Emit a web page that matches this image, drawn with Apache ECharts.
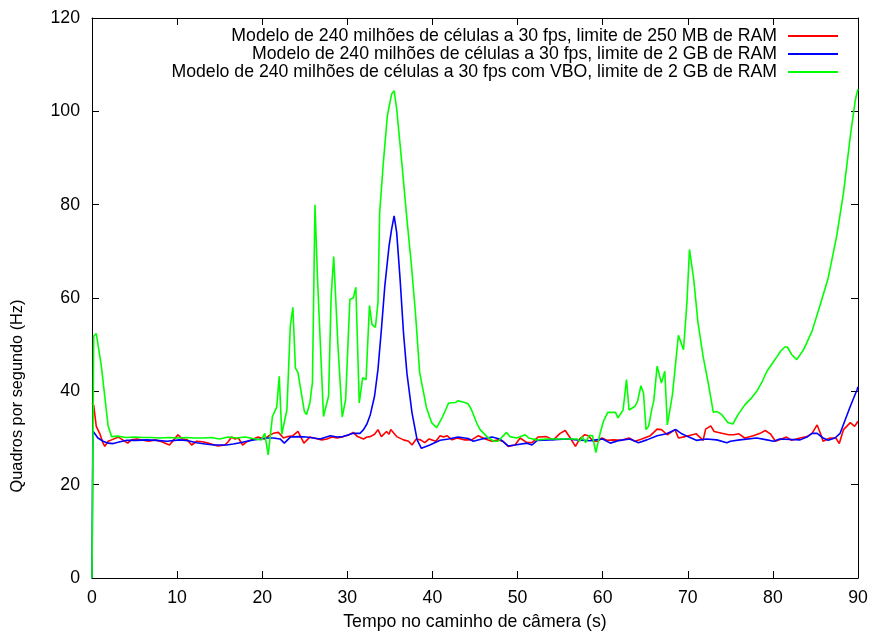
<!DOCTYPE html>
<html>
<head>
<meta charset="utf-8">
<script src="https://cdn.jsdelivr.net/npm/echarts@6/dist/echarts.min.js"></script>
<style>
  html, body { margin: 0; padding: 0; background: #fff; }
  #chart { width: 874px; height: 635px; }
</style>
</head>
<body>
<div id="chart"></div>
<script>
// nomes das séries (legenda)
var seriesNames = [
  "Modelo de 240 milhões de células a 30 fps, limite de 250 MB de RAM",
  "Modelo de 240 milhões de células a 30 fps, limite de 2 GB de RAM",
  "Modelo de 240 milhões de células a 30 fps com VBO, limite de 2 GB de RAM"
];
var xTicks = [0, 10, 20, 30, 40, 50, 60, 70, 80, 90];
var yTicks = [0, 20, 40, 60, 80, 100, 120];

// tempo (s) e quadros por segundo - 250 MB
var tRed = [0,0.2,0.5,0.9,1.3,1.5,1.9,2.3,3.1,3.7,4.2,4.6,5.3,6,6.7,7.4,8.2,9.1,9.6,10.1,10.6,11.2,11.7,12.3,13,13.6,14.2,14.8,15.6,16,16.4,16.8,17.2,17.7,18.2,18.7,19.5,19.7,20.3,20.8,21.3,21.9,22.5,23,23.6,24.2,24.9,25.6,26.3,27,27.6,28.2,28.8,29.5,30.1,30.7,31.2,31.9,32.3,32.7,33.2,33.6,34,34.6,34.9,35.1,35.8,36.6,37.2,37.6,38.1,38.6,39.1,39.6,40.4,40.9,41.3,41.7,42.3,42.9,43.8,44.6,45.4,46.2,47,47.7,48.3,48.9,49.7,50.3,51.1,51.7,52.4,53.4,54.2,55,55.6,56.2,56.8,57.3,57.9,58.3,58.9,59.4,59.9,60.5,61.3,62.2,63.1,63.8,64.6,65.6,66.4,66.9,67.6,68.5,68.9,69.7,70.3,71,71.8,72.1,72.7,73.1,74,74.8,75.4,76,76.7,77.7,78.5,79.1,79.7,80.3,81,81.6,82.2,83.2,84,84.6,85.2,85.6,85.9,86.7,87.4,87.8,88.3,89.1,89.6,90];
var vRed = [37.5,37,32.5,31,28.9,28.2,29.3,29.6,30.2,29.5,28.9,29.6,29.8,29.5,29.3,29.6,29.2,28.5,29.6,30.7,29.8,29.6,28.5,29.3,29.2,28.9,28.6,28.3,28.5,29.2,30.2,29.8,30,28.5,29.2,29.6,30.2,30.3,29.8,30.5,31,31.2,30,30.3,30.5,31.4,28.9,30.2,29.9,29.6,29.8,30.2,30,30.3,30.6,31.2,30.3,29.8,30.2,30.3,30.8,31.8,30.3,31.4,30.8,31.8,30.3,29.6,29.3,28.5,29.8,29.6,29,29.8,29.3,30.5,30.2,30.5,29.6,30,29.6,29.6,30.5,29.8,29.3,29.6,29.3,28.2,28.5,30,29,29,30.2,30.3,29.6,31,31.6,30,28.2,29.8,30.7,30.5,29.3,29.3,30,29.5,29.6,29.5,30,29.3,29.8,30.5,31.9,31.8,30.7,31.8,30,30.3,30.6,30.9,29.5,31.9,32.6,31.4,31,30.7,30.7,30.9,30,30.5,31,31.6,30.9,29.3,29.8,30.2,29.5,30,30.3,31,32.8,30.9,29.3,30,30,28.8,31.8,33.3,32.5,33.6];

// 2 GB
var tBlue = [0,0.1,0.3,0.7,1.3,1.9,2.5,3.3,4.1,5.2,6.4,7.6,8.8,10.3,11.3,12.3,13.3,14.3,15.8,16.6,17.4,18.2,19,19.8,20.5,21.3,22.1,22.6,23.3,24.2,25.2,26,26.8,28,28.8,29.5,30.7,31.5,31.9,32.3,32.7,33.2,33.6,34,34.4,34.9,35.2,35.5,35.8,36.2,36.6,37,37.6,38.2,38.7,39.7,40.9,41.9,43,44.2,44.8,45.8,47,47.9,48.9,49.7,51.1,51.7,52.3,53.8,55.8,57,58.5,59.2,60,60.9,62,63.2,64.2,65.2,66.4,67.5,68.6,69.3,70,71,72.2,73.4,74.6,75,76.1,78.1,79.3,80.1,80.8,83.2,84,84.6,85.2,85.9,86.5,87.3,87.9,88.5,89.1,89.9,90];
var vBlue = [0,31.5,31.8,30,29.3,28.9,28.8,29.2,29.5,29.5,29.6,29.5,29.3,29.6,29.4,29,28.7,28.5,28.5,28.7,29,29.3,29.6,29.8,30,30,29.8,28.9,30.2,30.3,30.2,30,29.8,30.5,30.2,30.3,31,31,31.8,33,35,39,44.7,53.2,62.5,71.1,74.7,77.6,74,64,52.5,43.9,35.4,29.6,27.8,28.5,29.5,29.8,30.2,29.9,29.3,29.8,30.2,29.8,28.3,28.5,28.9,28.5,29.5,29.6,29.8,29.6,29.4,29.6,29.8,28.9,29.5,29.8,29,29.6,30.5,30.9,31.8,30.9,30.3,29.5,29.8,29.6,29,29.3,29.6,30,29.6,29.3,29.8,29.6,30.2,31,31,30,29.5,30,31,33.9,36.8,40.4,41];

// 2 GB com VBO
var tGreen = [0,0.2,0.5,1.1,1.5,1.9,2.3,3,4,5,6,7,8,9,10,11,12,13,14,15,16,17,18,19.2,19.9,20.3,20.7,21.2,21.7,22,22.3,22.9,23.3,23.6,23.9,24.2,24.95,25.2,25.6,25.9,26.2,26.5,27.2,27.8,28.1,28.4,28.9,29.4,29.8,30.3,30.7,31,31.4,31.8,32.2,32.6,32.9,33.3,33.6,33.8,34.2,34.7,35.2,35.5,35.8,36.4,37,37.5,38,38.5,39.3,39.9,40.5,41.2,41.9,42.7,43,43.8,44.2,44.6,45.2,45.6,46.4,47.2,47.7,48.7,49.1,49.9,50.9,51.3,52.3,53.5,54.6,57,57.3,57.6,58,58.4,58.8,59.2,59.7,60.1,60.6,61.5,61.8,62.4,62.8,63.1,63.8,64.1,64.5,64.8,65.1,65.4,65.8,66,66.4,66.9,67.3,67.6,68.2,68.9,69.5,69.9,70.2,70.7,71.2,71.8,72.4,73,73.4,74,74.7,75.3,75.9,76.7,77.5,78.1,78.7,79.3,79.9,80.5,80.9,81.4,81.7,82.2,82.8,83.6,84.6,85.5,86.5,87.5,88.3,89.1,89.7,90];
var vGreen = [0,51.8,52.4,45.4,38.9,32.5,30.3,30.4,30.1,30.2,30.1,30.1,30,30.1,30,30.1,30,30,30.1,29.8,30.2,30,30.2,29.8,29.6,31,26.4,34.6,36.6,43.2,30.8,36,54,58,45,44,35.7,35,37.5,41.9,80,64,34.6,39,60.4,68.9,49.7,34.5,38.2,59.7,60,62.3,37.5,42.9,42.5,58.4,54.3,53.7,59,78.3,88.3,99,103.7,104.4,100.5,89,76.9,67.6,56.9,44,36.5,33.3,32.2,34.6,37.5,37.6,38,37.6,37.3,36,33.2,31.8,30.3,29.3,29.3,31.2,30.3,30,30.7,30,29.6,29.8,29.8,29.8,29.3,30.3,29,30.5,30.5,26.9,31,33.6,35.5,35.5,34.3,36,42.5,36,36.8,37.9,41.2,39.6,31.8,32.5,36.4,37.9,45.4,41.8,44.3,32.8,39.3,52,48.9,59,70.4,64,54.7,47.5,41.8,35.5,35.7,35,33.3,33,35,37.1,38.6,40,41.9,44.3,45.9,47.5,48.6,49.5,49.5,47.9,46.8,48.9,52.9,58.2,64.3,73.3,82.6,94.7,102.6,104.8];

var seriesColors = ["#ff0000", "#0000ff", "#00ff00"];

function zip(t, v) {
  var out = [];
  for (var i = 0; i < t.length; i++) out.push([t[i], v[i]]);
  return out;
}
var seriesData = [zip(tRed, vRed), zip(tBlue, vBlue), zip(tGreen, vGreen)];

var font = "Liberation Sans, Arial, Helvetica, sans-serif";
var fs = 17.7;
var chart = echarts.init(document.getElementById("chart"));

// uma legenda por linha, para alinhar tudo à direita
var legendTops = [22, 40, 58];
var legends = seriesNames.map(function (name, i) {
  return {
    data: [name],
    right: 31,
    top: legendTops[i],
    align: "right",
    icon: "rect",
    itemWidth: 50,
    itemHeight: 2,
    itemGap: 0,
    selectedMode: false,
    textStyle: { fontFamily: font, fontSize: fs, color: "#000", padding: [0, 6, 0, 0] }
  };
});

function xAxisCfg(pos, showLabel) {
  return {
    type: "value", position: pos, min: 0, max: 90, interval: 10,
    name: showLabel ? "Tempo no caminho de câmera (s)" : "",
    nameLocation: "middle", nameGap: 35,
    nameTextStyle: { fontFamily: font, fontSize: fs, color: "#000" },
    axisLine: { show: true, onZero: false, lineStyle: { color: "#000", width: 1 } },
    axisTick: { show: true, inside: true, length: 7, lineStyle: { color: "#000" } },
    axisLabel: { show: showLabel, fontFamily: font, fontSize: fs, color: "#000", margin: 11,
      formatter: function (v) { return xTicks.indexOf(v) >= 0 ? String(v) : ""; } },
    splitLine: { show: false }
  };
}
function yAxisCfg(pos, showLabel) {
  return {
    type: "value", position: pos, min: 0, max: 120, interval: 20,
    name: showLabel ? "Quadros por segundo (Hz)" : "",
    nameLocation: "middle", nameGap: 66, nameRotate: 90,
    // deslocado para baixo, como no original
    nameTextStyle: { fontFamily: font, fontSize: 16.3, color: "#000", padding: [0, 196, 0, 0] },
    axisLine: { show: true, onZero: false, lineStyle: { color: "#000", width: 1 } },
    axisTick: { show: true, inside: true, length: 7, lineStyle: { color: "#000" } },
    axisLabel: { show: showLabel, fontFamily: font, fontSize: fs, color: "#000", margin: 12,
      formatter: function (v) { return yTicks.indexOf(v) >= 0 ? String(v) : ""; } },
    splitLine: { show: false }
  };
}

var option = {
  backgroundColor: "#fff",
  animation: false,
  legend: legends,
  grid: { left: 92, right: 16, top: 18, bottom: 57, containLabel: false, outerBoundsMode: "none" },
  xAxis: [xAxisCfg("bottom", true), xAxisCfg("top", false)],
  yAxis: [yAxisCfg("left", true), yAxisCfg("right", false)],
  series: seriesNames.map(function (name, i) {
    return {
      name: name,
      type: "line",
      xAxisIndex: 0,
      yAxisIndex: 0,
      data: seriesData[i],
      showSymbol: false,
      symbol: "none",
      color: seriesColors[i],
      lineStyle: { color: seriesColors[i], width: 1.6 },
      z: 2 + i
    };
  })
};
chart.setOption(option);
</script>
</body>
</html>
